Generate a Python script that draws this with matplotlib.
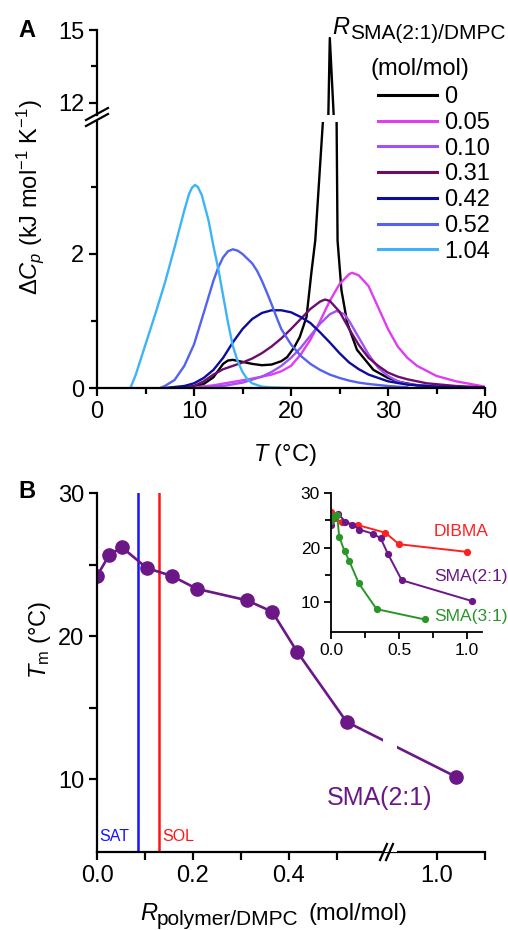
import matplotlib
matplotlib.use('Agg')

import numpy as np
import matplotlib.pyplot as plt
from matplotlib.lines import Line2D
from matplotlib.patches import Rectangle

plt.rcParams['font.family'] = ['Liberation Sans', 'DejaVu Sans']
plt.rcParams['mathtext.fontset'] = 'custom'
plt.rcParams['mathtext.rm'] = 'Liberation Sans'
plt.rcParams['mathtext.it'] = 'Liberation Sans:italic'
plt.rcParams['mathtext.bf'] = 'Liberation Sans:bold'

# ---------------- panel A data (DSC thermograms) ----------------
T_0 = [9, 10, 11, 12, 12.5, 13, 13.5, 14, 15, 16, 17, 18, 19, 19.6, 20.3, 20.9, 21.6, 22.1, 22.5,
       23.3, 23.85, 24.0, 24.4, 24.7, 24.8, 25.2, 25.8, 26.8, 28.5, 30, 31.2, 33, 36, 40]
cp_0 = [0.0, 0.02, 0.06, 0.16, 0.26, 0.36, 0.41, 0.42, 0.39, 0.36, 0.34, 0.35, 0.4, 0.46, 0.6, 0.76,
        1.06, 1.72, 2.2, 4.0, 11.5, 14.67, 11.5, 4.0, 2.2, 1.46, 0.97, 0.57, 0.27, 0.15, 0.09, 0.04, 0.01, 0.0]

T_005 = [9, 10, 12, 14, 16, 17, 18, 19, 20, 21, 22, 23, 24, 25, 26, 26.3, 27, 28, 29, 30, 31, 32, 33, 35, 37, 40]
cp_005 = [0.0, 0.01, 0.04, 0.09, 0.14, 0.17, 0.2, 0.25, 0.33, 0.5, 0.72, 1.0, 1.3, 1.55, 1.7, 1.72, 1.68,
          1.52, 1.2, 0.88, 0.62, 0.45, 0.33, 0.18, 0.1, 0.02]

T_010 = [9, 11, 13, 15, 17, 18, 19, 20, 21, 22, 23, 24, 24.7, 25.5, 26, 27, 28, 29, 30, 31, 32, 34, 37, 40]
cp_010 = [0.0, 0.01, 0.03, 0.08, 0.17, 0.24, 0.33, 0.45, 0.6, 0.78, 0.96, 1.1, 1.15, 1.1, 1.0, 0.75, 0.5,
          0.3, 0.18, 0.1, 0.06, 0.03, 0.01, 0.0]

T_031 = [8, 9, 10, 11, 12, 13, 14, 15, 16, 17, 18, 19, 20, 21, 22, 23, 23.5, 24, 25, 26, 27, 28, 29, 30,
         31, 32, 34, 37, 40]
cp_031 = [0.0, 0.01, 0.03, 0.1, 0.2, 0.28, 0.33, 0.38, 0.44, 0.52, 0.62, 0.74, 0.88, 1.03, 1.18, 1.29,
          1.32, 1.3, 1.14, 0.88, 0.64, 0.45, 0.33, 0.23, 0.17, 0.13, 0.07, 0.03, 0.01]

T_042 = [7, 9, 10, 11, 12, 13, 14, 15, 16, 17, 18, 19, 20, 21, 22, 23, 24, 25, 26, 27, 28, 29, 30, 32, 35, 40]
cp_042 = [0.0, 0.03, 0.07, 0.15, 0.27, 0.45, 0.68, 0.88, 1.03, 1.12, 1.16, 1.16, 1.13, 1.06, 0.97, 0.83,
          0.68, 0.52, 0.38, 0.28, 0.2, 0.15, 0.1, 0.05, 0.02, 0.0]

T_052 = [6.5, 7, 8, 9, 10, 11, 12, 12.5, 13, 13.5, 14, 14.5, 15, 16, 16.5, 17, 17.5, 18, 18.5, 19, 20,
         21, 22, 23, 24, 25, 26, 27, 28, 30, 32]
cp_052 = [0.0, 0.03, 0.12, 0.33, 0.65, 1.12, 1.6, 1.8, 1.95, 2.04, 2.07, 2.05, 2.0, 1.86, 1.75, 1.6,
          1.43, 1.25, 1.06, 0.88, 0.65, 0.48, 0.36, 0.27, 0.2, 0.15, 0.11, 0.08, 0.06, 0.03, 0.01]

T_104 = [3.5, 4, 5, 6, 7, 8, 9, 9.5, 9.8, 10.1, 10.4, 10.8, 11.5, 12, 12.5, 13.0, 13.5, 14, 14.5, 15,
         15.5, 16, 17, 18, 20]
cp_104 = [0.02, 0.2, 0.65, 1.1, 1.57, 2.1, 2.65, 2.9, 2.99, 3.03, 3.0, 2.88, 2.5, 2.12, 1.78, 1.38,
          0.98, 0.63, 0.4, 0.24, 0.13, 0.07, 0.02, 0.01, 0.0]

ratio_labels = ['0', '0.05', '0.10', '0.31', '0.42', '0.52', '1.04']
curve_T = [T_0, T_005, T_010, T_031, T_042, T_052, T_104]
curve_cp = [cp_0, cp_005, cp_010, cp_031, cp_042, cp_052, cp_104]
curve_colors = ['black', '#e03cf2', '#a052f2', '#6e0c6e', '#0c0ca0', '#5462f2', '#3cb4f6']

# ---------------- panel B data (Tm vs ratio) ----------------
r_sma21 = [0.0, 0.026, 0.052, 0.104, 0.156, 0.208, 0.312, 0.365, 0.417, 0.52, 1.04]
tm_sma21 = [24.2, 25.7, 26.2, 24.75, 24.2, 23.3, 22.5, 21.7, 18.9, 14.0, 10.15]

r_dibma = [0.0, 0.03, 0.08, 0.2, 0.4, 0.5, 1.0]
tm_dibma = [26.6, 25.4, 24.6, 24.1, 22.7, 20.6, 19.2]

r_sma31 = [0.0, 0.025, 0.045, 0.06, 0.1, 0.133, 0.205, 0.335, 0.69]
tm_sma31 = [24.8, 25.8, 26.0, 22.0, 19.3, 17.6, 13.4, 8.7, 6.8]

r_sat = 0.086
r_sol = 0.13

W, H = 508, 930
fig = plt.figure(figsize=(W / 100, H / 100), dpi=100)


def box(x0, y0, x1, y1):
    # pixel box (top-left origin) -> figure rect
    return [x0 / W, 1 - y1 / H, (x1 - x0) / W, (y1 - y0) / H]


lw_ax = 1.6
purple = '#6b1787'

def style(ax, fs=17):
    for s in ['top', 'right']:
        ax.spines[s].set_visible(False)
    for s in ['left', 'bottom']:
        ax.spines[s].set_linewidth(lw_ax)
    ax.tick_params(which='major', direction='out', length=6, width=lw_ax, labelsize=fs, pad=3)
    ax.tick_params(which='minor', direction='out', length=4, width=lw_ax)


# ---------------- panel A ----------------
axA = fig.add_axes(box(97, 122, 485, 388))
axT = fig.add_axes(box(97, 30, 485, 115))
for ax in (axA, axT):
    style(ax)
    for T, cp, c, lab in zip(curve_T, curve_cp, curve_colors, ratio_labels):
        ax.plot(T, cp, color=c, lw=1.7, label=lab, solid_joinstyle='round')
    ax.set_xlim(0, 40)

axA.set_ylim(0, 3.97)
axA.set_yticks([0, 2])
axA.set_yticks([1, 3], minor=True)
axA.set_xticks([0, 10, 20, 30, 40])
axA.set_xticks([5, 15, 25, 35], minor=True)

axT.set_ylim(11.5, 15)
axT.set_yticks([12, 15])
axT.set_yticks([13.5], minor=True)
axT.spines['bottom'].set_visible(False)
axT.tick_params(axis='x', which='both', bottom=False, labelbottom=False)

# axis break marks on left spine
for dy in (0, 6):
    fig.add_artist(Line2D([86 / W, 108 / W], [1 - (126 + dy - 6) / H, 1 - (114 + dy - 6) / H],
                          color='black', lw=1.6))

fig.text(30 / W, 1 - 197 / H, r'Δ$C_p$ (kJ mol$^{-1}$ K$^{-1}$)', rotation=90,
         ha='center', va='center', fontsize=17)
fig.text(285 / W, 1 - 455 / H, r'$T$ (°C)', ha='center', va='center', fontsize=17)

handles = [Line2D([], [], color=c, lw=2.2) for c in curve_colors]
fig.legend(handles, ratio_labels, loc='upper left', bbox_to_anchor=(378 / W, 1 - 86 / H),
           frameon=False, fontsize=17, handlelength=2.5, handletextpad=0.3, labelspacing=0.16,
           borderpad=0, borderaxespad=0)
fig.text(332 / W, 1 - 34 / H, 'R', fontsize=17, style='italic', va='baseline')
fig.text(350 / W, 1 - 39 / H, 'SMA(2:1)/DMPC', fontsize=15, va='baseline')
fig.text(420 / W, 1 - 75 / H, '(mol/mol)', fontsize=17, va='baseline', ha='center')

fig.text(18 / W, 1 - 37 / H, 'A', fontsize=17, fontweight='bold', va='baseline')
fig.text(18 / W, 1 - 498 / H, 'B', fontsize=17, fontweight='bold', va='baseline')

# ---------------- panel B ----------------
k = 0.028

def fwd(x):
    x = np.asarray(x, dtype=float)
    return np.where(x <= 0.6, x, np.where(x < 0.9, 0.6 + (x - 0.6) * k, x - 0.3 + 0.3 * k))

def inv(s):
    s = np.asarray(s, dtype=float)
    return np.where(s <= 0.6, s, np.where(s < 0.6 + 0.3 * k, 0.6 + (s - 0.6) / k, s + 0.3 - 0.3 * k))

axB = fig.add_axes(box(97, 493, 485, 852))
style(axB)
axB.set_xscale('function', functions=(fwd, inv))
axB.set_xlim(0, 1.1)
axB.set_ylim(4.9, 30)
axB.set_xticks([0, 0.2, 0.4, 1.0])
axB.set_xticklabels(['0.0', '0.2', '0.4', '1.0'])
axB.set_xticks([0.1, 0.3, 0.5, 1.1], minor=True)
axB.set_yticks([10, 20, 30])
axB.set_yticks([15, 25], minor=True)
axB.tick_params(which='minor', length=6)

axB.axvline(r_sat, color='#1414ff', lw=1.8)
axB.axvline(r_sol, color='#ff1414', lw=1.8)
axB.plot(r_sma21, tm_sma21, color=purple, lw=1.9, marker='o', ms=9.5)
axB.add_patch(Rectangle((0.596, 0), 0.917 - 0.596, 1, transform=axB.get_xaxis_transform(),
                        facecolor='white', edgecolor='none', zorder=3, clip_on=False))
for dx in (0, 6):
    fig.add_artist(Line2D([(380 + dx) / W, (387 + dx) / W], [1 - 860 / H, 1 - 844 / H],
                          color='black', lw=1.6))

axB.text(0.005, 6.0, 'SAT', color='#1414ff', fontsize=11.5, va='center')
axB.text(0.137, 6.0, 'SOL', color='#ff1414', fontsize=11.5, va='center')
fig.text(380 / W, 1 - 798 / H, 'SMA(2:1)', color=purple, fontsize=18, ha='center', va='center')

fig.text(40 / W, 1 - 640 / H, r'$T_\mathrm{m}$ (°C)', rotation=90, ha='center', va='center',
         fontsize=17)
fig.text(140 / W, 1 - 920 / H, 'R', fontsize=17, style='italic', va='baseline')
fig.text(157 / W, 1 - 925 / H, 'polymer/DMPC', fontsize=15, va='baseline')
fig.text(308 / W, 1 - 920 / H, '(mol/mol)', fontsize=17, va='baseline')

# inset
axI = fig.add_axes(box(331, 493, 482, 632))
style(axI, fs=12.5)
axI.tick_params(which='major', length=5, width=1.3)
axI.tick_params(which='minor', length=4, width=1.3)
for s in ['left', 'bottom']:
    axI.spines[s].set_linewidth(1.3)
axI.set_xlim(0, 1.11)
axI.set_ylim(4.5, 30)
axI.set_xticks([0, 0.5, 1.0])
axI.set_xticklabels(['0.0', '0.5', '1.0'])
axI.set_xticks([0.25, 0.75], minor=True)
axI.set_yticks([10, 20, 30])
axI.set_yticks([15, 25], minor=True)
axI.plot(r_dibma, tm_dibma, color='#ff2020', lw=1.4, marker='o', ms=4.2)
axI.plot(r_sma21, tm_sma21, color=purple, lw=1.4, marker='o', ms=4.2)
axI.plot(r_sma31, tm_sma31, color='#2a962a', lw=1.4, marker='o', ms=4.2)
fig.text(434 / W, 1 - 531 / H, 'DIBMA', color='#ff2020', fontsize=12.5, va='center')
fig.text(434 / W, 1 - 576 / H, 'SMA(2:1)', color=purple, fontsize=12.5, va='center')
fig.text(434 / W, 1 - 616 / H, 'SMA(3:1)', color='#2a962a', fontsize=12.5, va='center')

plt.savefig('out.png', dpi=100)
plt.close()
